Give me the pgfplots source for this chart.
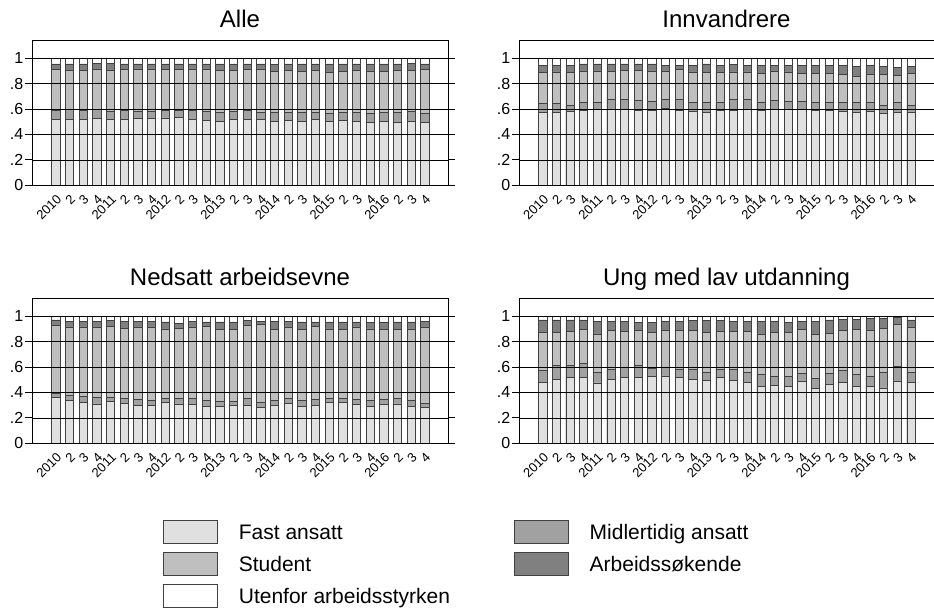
\documentclass[border=0pt]{standalone}
\usepackage{fontspec}
\setmainfont{Liberation Sans}
\usepackage{pgfplots}
\usepackage{pgfplotstable}
\pgfplotsset{compat=1.18}

\definecolor{fast}{gray}{0.88}
\definecolor{midl}{gray}{0.63}
\definecolor{stud}{gray}{0.75}
\definecolor{arb}{gray}{0.50}
\definecolor{edge}{gray}{0.25}

% cumulative shares: c1 = fast, c2 = +midlertidig, c3 = +student, c4 = +arbeidssokende
\pgfplotstableread{
q c1 c2 c3 c4 tot
1 .52 .59 .91 .955 1
2 .52 .595 .905 .955 1
3 .52 .59 .905 .955 1
4 .525 .595 .915 .96 1
5 .52 .58 .905 .96 1
6 .52 .59 .91 .955 1
7 .525 .585 .915 .955 1
8 .525 .585 .915 .955 1
9 .53 .59 .91 .955 1
10 .535 .59 .91 .955 1
11 .52 .59 .915 .955 1
12 .51 .58 .915 .955 1
13 .50 .57 .905 .955 1
14 .52 .58 .905 .955 1
15 .515 .59 .91 .955 1
16 .515 .575 .915 .955 1
17 .50 .57 .895 .95 1
18 .51 .575 .905 .955 1
19 .50 .57 .895 .955 1
20 .515 .575 .905 .955 1
21 .50 .565 .89 .955 1
22 .51 .575 .895 .955 1
23 .505 .575 .905 .955 1
24 .495 .565 .90 .955 1
25 .50 .57 .895 .955 1
26 .495 .57 .905 .955 1
27 .50 .58 .905 .96 1
28 .495 .565 .91 .955 1
}\alle

\pgfplotstableread{
q c1 c2 c3 c4 tot
1 .572 .646 .887 .94 1
2 .572 .646 .892 .945 1
3 .58 .627 .887 .945 1
4 .593 .656 .90 .955 1
5 .598 .656 .90 .955 1
6 .598 .677 .895 .955 1
7 .598 .677 .905 .955 1
8 .588 .667 .905 .955 1
9 .593 .661 .90 .955 1
10 .606 .677 .90 .945 1
11 .588 .677 .913 .945 1
12 .58 .651 .892 .94 1
13 .572 .656 .887 .955 1
14 .588 .656 .887 .94 1
15 .593 .677 .892 .95 1
16 .598 .677 .892 .945 1
17 .588 .656 .879 .945 1
18 .598 .667 .90 .945 1
19 .598 .661 .892 .945 1
20 .598 .661 .879 .945 1
21 .588 .656 .879 .945 1
22 .588 .656 .879 .945 1
23 .58 .651 .874 .945 1
24 .577 .656 .856 .934 1
25 .58 .651 .874 .94 1
26 .567 .63 .874 .934 1
27 .572 .651 .866 .927 1
28 .577 .63 .879 .934 1
}\innv

\pgfplotstableread{
q c1 c2 c3 c4 tot
1 .36 .395 .93 .97 1
2 .34 .38 .915 .96 1
3 .32 .37 .915 .96 1
4 .31 .36 .915 .96 1
5 .33 .365 .92 .965 1
6 .315 .355 .905 .96 1
7 .30 .345 .915 .96 1
8 .30 .34 .915 .96 1
9 .32 .355 .90 .955 1
10 .31 .35 .905 .945 1
11 .305 .35 .915 .96 1
12 .29 .335 .92 .955 1
13 .29 .33 .895 .955 1
14 .30 .33 .895 .955 1
15 .30 .35 .925 .965 1
16 .285 .325 .935 .96 1
17 .30 .335 .895 .96 1
18 .315 .355 .915 .96 1
19 .29 .335 .895 .955 1
20 .30 .345 .92 .955 1
21 .32 .355 .90 .955 1
22 .32 .355 .895 .955 1
23 .305 .345 .915 .955 1
24 .29 .335 .90 .95 1
25 .305 .345 .895 .955 1
26 .31 .35 .895 .955 1
27 .29 .335 .90 .955 1
28 .28 .315 .915 .96 1
}\nedsatt

\pgfplotstableread{
q c1 c2 c3 c4 tot
1 .48 .575 .87 .97 1
2 .50 .615 .87 .97 1
3 .515 .615 .88 .97 1
4 .52 .625 .895 .97 1
5 .475 .555 .86 .96 1
6 .50 .58 .885 .96 1
7 .515 .60 .88 .96 1
8 .52 .61 .89 .95 1
9 .525 .59 .87 .95 1
10 .53 .60 .885 .96 1
11 .52 .585 .885 .96 1
12 .505 .585 .89 .965 1
13 .495 .56 .87 .965 1
14 .52 .585 .88 .965 1
15 .495 .58 .88 .96 1
16 .48 .56 .88 .96 1
17 .45 .54 .86 .96 1
18 .455 .53 .875 .96 1
19 .45 .525 .87 .95 1
20 .49 .55 .895 .96 1
21 .43 .51 .855 .96 1
22 .465 .55 .865 .97 1
23 .48 .57 .89 .975 1
24 .45 .54 .895 .975 1
25 .445 .53 .885 .98 1
26 .435 .555 .905 .98 1
27 .49 .605 .935 .99 1
28 .48 .56 .915 .97 1
}\ung

\pgfplotsset{
  bars/.style={ybar, bar width=0.6, bar shift=0pt, draw=edge, line width=0.6pt},
  panel/.style={
    scale only axis, height=145pt,
    xmin=-0.74, xmax=29.69, ymin=0, ymax=1.14,
    xtick={1,...,28},
    xticklabels={2010,2,3,4,2011,2,3,4,2012,2,3,4,2013,2,3,4,2014,2,3,4,2015,2,3,4,2016,2,3,4},
    x tick label style={rotate=45, anchor=north east, font=\fontsize{13}{13}\selectfont, inner sep=1pt},
    xtick style={draw=none},
    ytick={0,.2,.4,.6,.8,1},
    yticklabels={0,.2,.4,.6,.8,1},
    y tick label style={font=\fontsize{16}{16}\selectfont, inner sep=1.5pt},
    ytick style={black, line width=0.8pt},
    tick align=outside, major tick length=7pt,
    ymajorgrids, grid style={black, line width=0.6pt},
    axis on top,
    axis line style={black, line width=0.8pt},
    title style={font=\fontsize{24}{24}\selectfont, anchor=base, at={(0.5,1)}, yshift=7pt, inner sep=0pt},
  },
}

\newcommand{\panelbars}[1]{%
  \addplot[bars, fill=white] table[x=q, y=tot] {#1};
  \addplot[bars, fill=arb] table[x=q, y=c4] {#1};
  \addplot[bars, fill=stud] table[x=q, y=c3] {#1};
  \addplot[bars, fill=midl] table[x=q, y=c2] {#1};
  \addplot[bars, fill=fast] table[x=q, y=c1] {#1};
}

\begin{document}
\begin{tikzpicture}[x=1pt, y=1pt]
\path[use as bounding box] (0,0) rectangle (934,612);

\begin{axis}[panel, width=416pt, at={(32pt,426.7pt)}, title={Alle}]
\panelbars{\alle}
\end{axis}

\begin{axis}[panel, width=415pt, at={(519pt,426.7pt)}, title={Innvandrere}]
\panelbars{\innv}
\end{axis}

\begin{axis}[panel, width=416pt, at={(32pt,168.7pt)}, title={Nedsatt arbeidsevne},
  legend columns=2, legend cell align=left,
  legend image code/.code={\draw[#1, draw=edge, line width=0.6pt] (0pt,-10.5pt) rectangle (54pt,12.5pt);},
  legend style={at={(0.315,-0.528)}, anchor=north west, draw=none, fill=none, inner sep=0pt,
    font=\fontsize{21}{21}\selectfont, row sep=8.5pt,
    nodes={inner sep=0pt},
    /tikz/every odd column/.append style={column sep=21pt},
    /tikz/column 2/.append style={column sep=64pt}}]
\addlegendimage{fill=fast}
\addlegendimage{fill=midl}
\addlegendimage{fill=stud}
\addlegendimage{fill=arb}
\addlegendimage{fill=white}
\legend{Fast ansatt, Midlertidig ansatt, Student, Arbeidssøkende, Utenfor arbeidsstyrken}
\panelbars{\nedsatt}
\end{axis}

\begin{axis}[panel, width=415pt, at={(519pt,168.7pt)}, title={Ung med lav utdanning}]
\panelbars{\ung}
\end{axis}
\end{tikzpicture}
\end{document}
